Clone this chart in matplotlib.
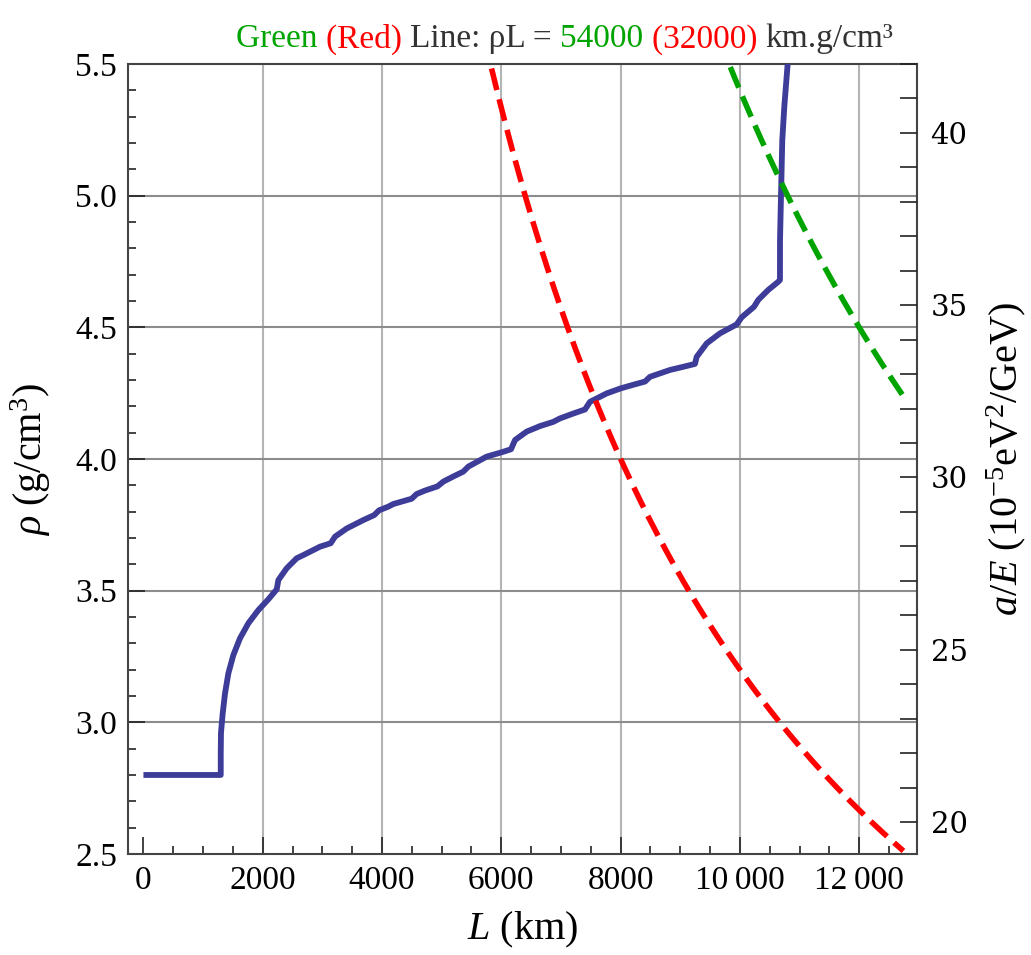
import numpy as np
import matplotlib.pyplot as plt
from matplotlib.offsetbox import TextArea, HPacker, AnchoredOffsetbox

plt.rcParams['font.family'] = ['Liberation Serif', 'DejaVu Serif']
plt.rcParams['mathtext.fontset'] = 'custom'
plt.rcParams['mathtext.rm'] = 'Liberation Serif'
plt.rcParams['mathtext.it'] = 'Liberation Serif:italic'

# Average density along the chord vs baseline length
L_km = [0, 1296, 1296, 1300, 1329, 1368, 1424, 1507, 1619, 1759, 1926, 2094, 2235,
        2262, 2402, 2570, 2681, 2961, 3140,
        3212, 3408, 3687, 3870,
        3950, 4106, 4190, 4497,
        4581, 4720, 4930,
        5028, 5200, 5363,
        5447, 5755, 6000, 6163,
        6230, 6426, 6650, 6872,
        6984, 7200, 7403,
        7487, 7767, 8000, 8200, 8409,
        8493, 8828, 9050, 9247,
        9276, 9444, 9666, 9946,
        10030, 10237,
        10308, 10476, 10644, 10672,
        10673, 10689, 10711, 10745, 10801, 10812]
rho = [2.80, 2.80, 2.882, 2.96, 3.034, 3.110, 3.186, 3.255, 3.319, 3.376, 3.426, 3.467, 3.505,
       3.54, 3.585, 3.623, 3.635, 3.667, 3.680,
       3.705, 3.736, 3.768, 3.787,
       3.805, 3.819, 3.829, 3.849,
       3.867, 3.880, 3.896,
       3.914, 3.934, 3.952,
       3.971, 4.009, 4.025, 4.037,
       4.072, 4.104, 4.125, 4.141,
       4.154, 4.172, 4.188,
       4.217, 4.249, 4.268, 4.281, 4.294,
       4.312, 4.338, 4.350, 4.361,
       4.388, 4.439, 4.477, 4.511,
       4.538, 4.578,
       4.604, 4.642, 4.673, 4.68,
       4.83, 4.996, 5.211, 5.338, 5.50, 5.53]

# constant rho*L lines (km g/cm^3)
rhoL_green = 54000
rhoL_red = 32000
L_max = 12742

# a/E per unit density, 10^-5 eV^2/GeV per g/cm^3
aE_per_rho = 7.63

blue = '#3d3d99'
green = '#00a400'
red = '#ff0000'

fig = plt.figure(figsize=(10.31, 9.55), dpi=100)
ax = fig.add_axes([0.1242, 0.1058, 0.7649, 0.8272])

ax.plot(L_km, rho, color=blue, lw=4.2, solid_joinstyle='round',
        solid_capstyle='butt', zorder=3)

Lr = np.linspace(rhoL_red / 5.6, L_max, 300)
ax.plot(Lr, rhoL_red / Lr, color=red, lw=4.0, dashes=(4.0, 1.7),
        dash_capstyle='butt', zorder=4)
Lg = np.linspace(rhoL_green / 5.6, L_max, 300)
ax.plot(Lg, rhoL_green / Lg, color=green, lw=4.0, dashes=(4.0, 1.7),
        dash_capstyle='butt', zorder=4)

ax.set_xlim(-258, 12964)
ax.set_ylim(2.5, 5.5)

xt = [0, 2000, 4000, 6000, 8000, 10000, 12000]
ax.set_xticks(xt)
ax.set_xticklabels(['0', '2000', '4000', '6000', '8000', '10\u2009000', '12\u2009000'])
ax.set_xticks(np.arange(0, 13000, 500), minor=True)
ax.set_yticks([2.5, 3.0, 3.5, 4.0, 4.5, 5.0, 5.5])
ax.set_yticks(np.arange(2.5, 5.55, 0.1), minor=True)

for x in xt[1:]:
    ax.axvline(x, color='#b4b4b4', lw=1.5, zorder=1)
for y in [3.0, 3.5, 4.0, 4.5, 5.0]:
    ax.axhline(y, color='#8c8c8c', lw=1.5, zorder=1)

ax.tick_params(which='both', direction='in', top=False, right=False,
               labelsize=24, color='#222222', width=1.2)
ax.tick_params(which='major', length=12, pad=8)
ax.tick_params(which='minor', length=6)
for s in ax.spines.values():
    s.set_color('#444444')
    s.set_linewidth(1.5)

ax.set_xlabel('$L$ (km)', fontsize=29, labelpad=10)
ax.set_ylabel(r'$\rho$ (g/cm$^3$)', fontsize=29, labelpad=16)

# right axis in terms of a/E
ax2 = ax.twinx()
ax2.set_ylim(2.5 * aE_per_rho, 5.5 * aE_per_rho)
ax2.set_yticks([20, 25, 30, 35, 40])
ax2.set_yticks(np.arange(20, 42.5, 1), minor=True)
ax2.tick_params(which='both', direction='in', color='#222222', width=1.2)
ax2.tick_params(which='major', length=12, pad=10)
ax2.tick_params(which='minor', length=12)
for lab in ax2.get_yticklabels():
    lab.set_fontfamily('DejaVu Serif')
    lab.set_fontsize(21)
for s in ax2.spines.values():
    s.set_visible(False)
ax2.set_ylabel(r'$a/E$ $(10^{-5}\mathrm{eV}^{2}/\mathrm{GeV})$', fontsize=29,
               labelpad=12)

# coloured title
parts = [('Green ', green), ('(Red) ', red), ('Line: \u03c1L = ', '#333333'),
         ('54000 ', green), ('(32000) ', red), ('km.g/cm\u00b3', '#333333')]
boxes = [TextArea(t, textprops=dict(color=c, fontsize=24, fontfamily='Liberation Serif'))
         for t, c in parts]
title = HPacker(children=boxes, align='baseline', pad=0, sep=0)
anchored = AnchoredOffsetbox(loc='lower center', child=title, pad=0, frameon=False,
                             bbox_to_anchor=(0.554, 1.012), bbox_transform=ax.transAxes,
                             borderpad=0)
ax.add_artist(anchored)

plt.savefig('out.png', dpi=100)
